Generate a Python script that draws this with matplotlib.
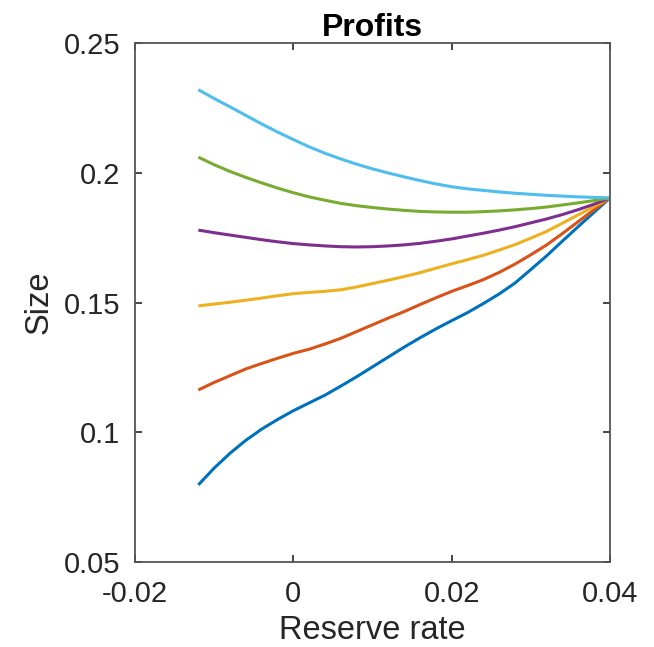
import matplotlib
matplotlib.use("Agg")
import matplotlib.pyplot as plt

reserve_rate = [-0.012, -0.010, -0.008, -0.006, -0.004, -0.002, 0.000, 0.002, 0.004,
                0.006, 0.008, 0.010, 0.012, 0.014, 0.016, 0.018, 0.020, 0.022,
                0.024, 0.026, 0.028, 0.030, 0.032, 0.034, 0.036, 0.038, 0.040]

size_blue = [0.0797, 0.0862, 0.0919, 0.0969, 0.1012, 0.1049, 0.1083, 0.1113, 0.1143,
             0.1178, 0.1214, 0.1252, 0.1290, 0.1328, 0.1364, 0.1398, 0.1430, 0.1461,
             0.1496, 0.1533, 0.1575, 0.1627, 0.1680, 0.1737, 0.1793, 0.1848, 0.1903]
size_orange = [0.1163, 0.1192, 0.1218, 0.1244, 0.1265, 0.1285, 0.1304, 0.1320, 0.1340,
               0.1362, 0.1388, 0.1414, 0.1440, 0.1465, 0.1492, 0.1518, 0.1543, 0.1565,
               0.1588, 0.1616, 0.1648, 0.1684, 0.1722, 0.1766, 0.1812, 0.1858, 0.1903]
size_yellow = [0.1487, 0.1494, 0.1501, 0.1509, 0.1517, 0.1526, 0.1534, 0.1539, 0.1543,
               0.1549, 0.1560, 0.1573, 0.1586, 0.1600, 0.1615, 0.1632, 0.1649, 0.1665,
               0.1682, 0.1702, 0.1723, 0.1748, 0.1774, 0.1806, 0.1838, 0.1870, 0.1903]
size_purple = [0.1779, 0.1769, 0.1760, 0.1751, 0.1742, 0.1734, 0.1727, 0.1722, 0.1718,
               0.1715, 0.1714, 0.1715, 0.1718, 0.1722, 0.1728, 0.1736, 0.1745, 0.1756,
               0.1767, 0.1779, 0.1792, 0.1807, 0.1822, 0.1839, 0.1858, 0.1879, 0.1903]
size_green = [0.2060, 0.2031, 0.2005, 0.1982, 0.1961, 0.1941, 0.1923, 0.1907, 0.1894,
              0.1882, 0.1873, 0.1866, 0.1860, 0.1855, 0.1851, 0.1849, 0.1848, 0.1848,
              0.1850, 0.1853, 0.1857, 0.1862, 0.1868, 0.1876, 0.1884, 0.1893, 0.1903]
size_cyan = [0.2320, 0.2286, 0.2254, 0.2221, 0.2188, 0.2157, 0.2128, 0.2100, 0.2075,
             0.2053, 0.2033, 0.2015, 0.1999, 0.1984, 0.1970, 0.1957, 0.1946, 0.1938,
             0.1932, 0.1926, 0.1921, 0.1917, 0.1913, 0.1910, 0.1907, 0.1905, 0.1903]

series = [size_blue, size_orange, size_yellow, size_purple, size_green, size_cyan]
colors = ["#0072BD", "#D95319", "#EDB120", "#7E2F8E", "#77AC30", "#4DBEEE"]

xticks = [-0.02, 0, 0.02, 0.04]
xtick_labels = ["-0.02", "0", "0.02", "0.04"]
yticks = [0.05, 0.1, 0.15, 0.2, 0.25]
ytick_labels = ["0.05", "0.1", "0.15", "0.2", "0.25"]

plt.rcParams['font.family'] = ['Liberation Sans', 'DejaVu Sans']
dark = "#262626"

fig = plt.figure(figsize=(6.54, 6.47), dpi=100)
ax = fig.add_axes([135/654, 1-562/647, (610-135)/654, (562-43)/647])

for ys, c in zip(series, colors):
    ax.plot(reserve_rate, ys, color=c, linewidth=2.2, solid_capstyle='butt')

ax.set_xlim(-0.02, 0.04)
ax.set_ylim(0.05, 0.25)
ax.set_xticks(xticks)
ax.set_xticklabels(xtick_labels)
ax.set_yticks(yticks)
ax.set_yticklabels(ytick_labels)
ax.tick_params(direction='in', length=5, width=1.2, colors=dark,
               labelsize=21, top=True, right=True)
ax.tick_params(axis='y', pad=10.5)
ax.tick_params(axis='x', pad=13)
for s in ax.spines.values():
    s.set_color("#555555")
    s.set_linewidth(1.3)

ax.set_title("Profits", fontsize=23, fontweight='bold', color='black', pad=5)
ax.set_xlabel("Reserve rate", fontsize=23.5, color=dark, labelpad=5)
ax.set_ylabel("Size", fontsize=23.5, color=dark, labelpad=7)

fig.savefig("out.png", dpi=100, facecolor='white')
